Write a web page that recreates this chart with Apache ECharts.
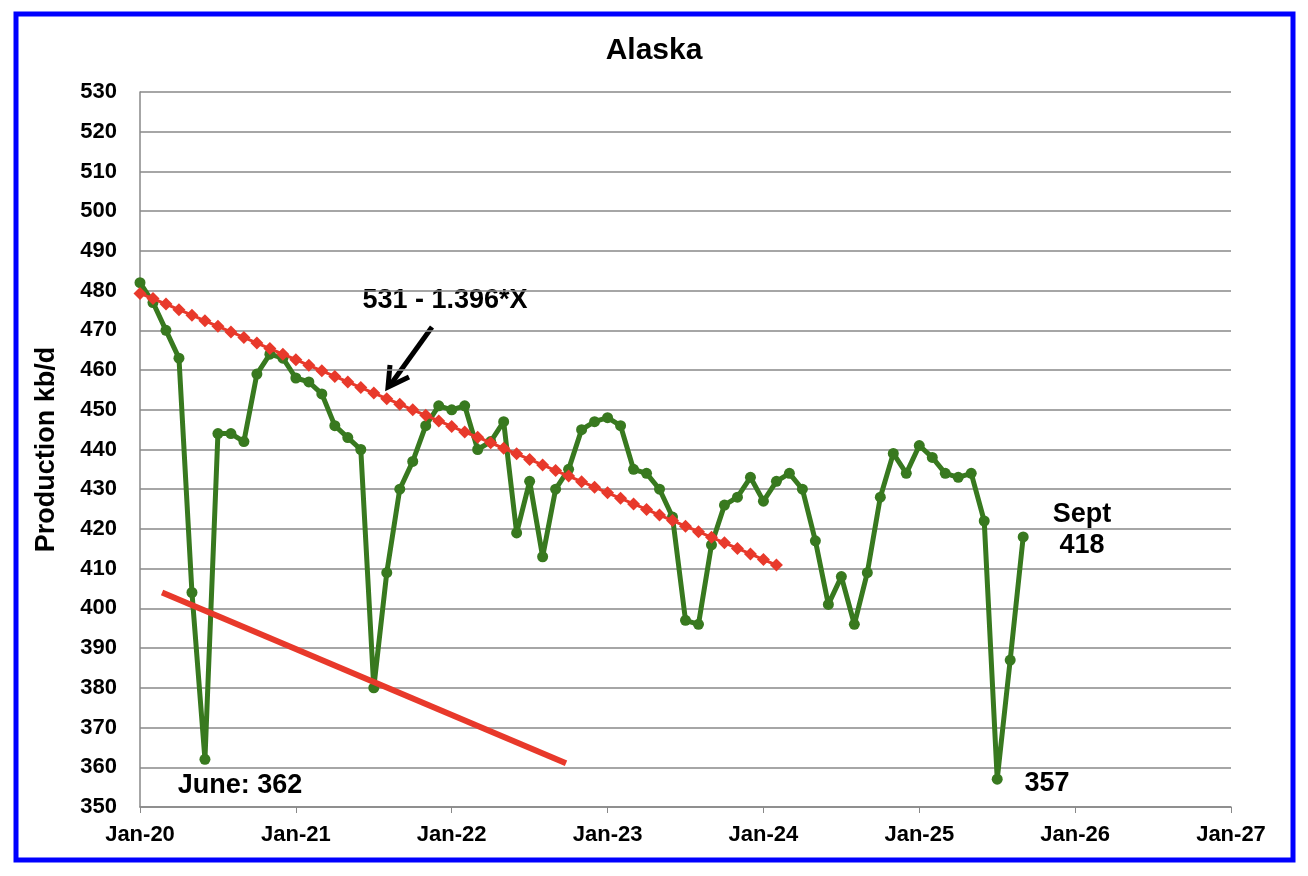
<!DOCTYPE html>
<html>
<head>
<meta charset="utf-8">
<title>Alaska</title>
<script src="https://cdn.jsdelivr.net/npm/echarts@6/dist/echarts.min.js"></script>
<style>
  html, body { margin: 0; padding: 0; background: #fff; }
  #chart { width: 1308px; height: 876px; }
</style>
</head>
<body>
<div id="chart"></div>
<script>
// monthly production, kb/d, starting Jan-20
const production = [
  482, 477, 470, 463, 404, 362, 444, 444, 442, 459, 464, 463,
  458, 457, 454, 446, 443, 440, 380, 409, 430, 437, 446, 451,
  450, 451, 440, 442, 447, 419, 432, 413, 430, 435, 445, 447,
  448, 446, 435, 434, 430, 423, 397, 396, 416, 426, 428, 433,
  427, 432, 434, 430, 417, 401, 408, 396, 409, 428, 439, 434,
  441, 438, 434, 433, 434, 422, 357, 387, 418
];

// red fitted line 531 - 1.396*X, Jan-20 .. Feb-24
const trend = [
  479.3, 478.0, 476.6, 475.2, 473.8, 472.4, 471.0, 469.6, 468.2, 466.8,
  465.4, 464.0, 462.6, 461.2, 459.8, 458.4, 457.0, 455.6, 454.2, 452.8,
  451.4, 450.0, 448.6, 447.2, 445.8, 444.4, 443.1, 441.7, 440.3, 438.9,
  437.5, 436.1, 434.7, 433.3, 431.9, 430.5, 429.1, 427.7, 426.3, 424.9,
  423.5, 422.1, 420.7, 419.3, 417.9, 416.5, 415.1, 413.7, 412.3, 410.9
];

// lower red line (months since Jan-20, value)
const lowLineMonths = [1.7, 32.8];
const lowLineValues = [404, 361];

const yearLabels = ['Jan-20', 'Jan-21', 'Jan-22', 'Jan-23', 'Jan-24', 'Jan-25', 'Jan-26', 'Jan-27'];

const chart = echarts.init(document.getElementById('chart'));
const font = "'Liberation Sans', Arial, sans-serif";
const green = '#38791f';
const red = '#e8392b';

const option = {
  animation: false,
  backgroundColor: '#fff',
  title: {
    text: 'Alaska',
    left: 'center',
    top: 31,
    textStyle: { fontFamily: font, fontSize: 30, fontWeight: 'bold', color: '#000' }
  },
  grid: { left: 140, right: 77, top: 92, bottom: 69 },
  xAxis: {
    type: 'value',
    min: 0,
    max: 84,
    interval: 12,
    axisLine: { show: true, lineStyle: { color: '#888', width: 1.5 } },
    axisTick: { show: true, length: 6, lineStyle: { color: '#888' } },
    splitLine: { show: false },
    axisLabel: {
      margin: 17,
      fontFamily: font,
      fontSize: 22,
      fontWeight: 'bold',
      color: '#000',
      formatter: (v) => yearLabels[Math.round(v / 12)]
    }
  },
  yAxis: {
    type: 'value',
    min: 350,
    max: 530,
    interval: 10,
    name: 'Production kb/d',
    nameLocation: 'middle',
    nameGap: 80,
    nameTextStyle: { fontFamily: font, fontSize: 27, fontWeight: 'bold', color: '#000' },
    axisLine: { show: true, lineStyle: { color: '#888', width: 1.5 } },
    axisTick: { show: false },
    splitLine: { lineStyle: { color: '#888', width: 1.5 } },
    axisLabel: { margin: 23, fontFamily: font, fontSize: 22, fontWeight: 'bold', color: '#000' }
  },
  series: [
    {
      name: 'Production',
      type: 'line',
      data: production.map((v, i) => [i, v]),
      symbol: 'circle',
      symbolSize: 11,
      lineStyle: { color: green, width: 5 },
      itemStyle: { color: green },
      z: 2
    },
    {
      name: 'Trend',
      type: 'line',
      data: trend.map((v, i) => [i, v]),
      symbol: 'diamond',
      symbolSize: 13,
      lineStyle: { color: red, width: 3 },
      itemStyle: { color: red },
      z: 3
    },
    {
      name: 'Low',
      type: 'line',
      data: lowLineMonths.map((m, i) => [m, lowLineValues[i]]),
      symbol: 'none',
      lineStyle: { color: red, width: 6 },
      z: 3
    }
  ],
  graphic: [
    {
      type: 'rect',
      shape: { x: 16, y: 14, width: 1277, height: 846 },
      style: { fill: 'none', stroke: '#0000ff', lineWidth: 5 },
      silent: true
    },
    {
      type: 'text', x: 445, y: 301,
      style: { text: '531 - 1.396*X', fontFamily: font, fontSize: 27, fontWeight: 'bold', fill: '#000', align: 'center', verticalAlign: 'middle' }
    },
    {
      type: 'line',
      shape: { x1: 432, y1: 327, x2: 391, y2: 384 },
      style: { stroke: '#000', lineWidth: 5 }
    },
    {
      type: 'polyline',
      shape: { points: [[390, 365], [388, 387], [409, 377]] },
      style: { stroke: '#000', lineWidth: 5, fill: 'none', lineJoin: 'miter' }
    },
    {
      type: 'text', x: 240, y: 786,
      style: { text: 'June: 362', fontFamily: font, fontSize: 27, fontWeight: 'bold', fill: '#000', align: 'center', verticalAlign: 'middle' }
    },
    {
      type: 'text', x: 1082, y: 530,
      style: { text: 'Sept\n418', fontFamily: font, fontSize: 27, fontWeight: 'bold', fill: '#000', align: 'center', verticalAlign: 'middle', lineHeight: 31 }
    },
    {
      type: 'text', x: 1047, y: 784,
      style: { text: '357', fontFamily: font, fontSize: 27, fontWeight: 'bold', fill: '#000', align: 'center', verticalAlign: 'middle' }
    }
  ]
};

chart.setOption(option);
</script>
</body>
</html>
